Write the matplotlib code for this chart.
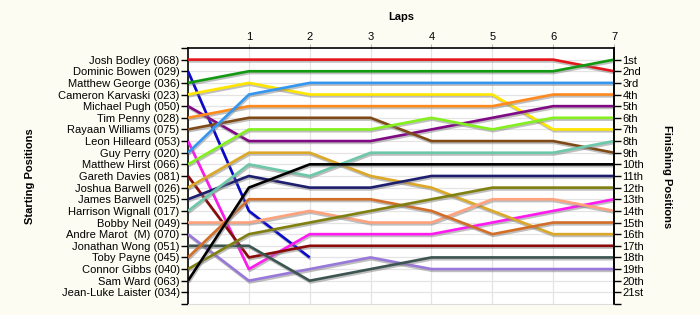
import numpy as np
import matplotlib
matplotlib.use('Agg')
import matplotlib.pyplot as plt
import matplotlib.patheffects as pe

plt.rcParams['font.family'] = ['Liberation Sans', 'DejaVu Sans']

drivers = ['Josh Bodley (068)', 'Dominic Bowen (029)', 'Matthew George (036)',
           'Cameron Karvaski (023)', 'Michael Pugh (050)', 'Tim Penny (028)',
           'Rayaan Williams (075)', 'Leon Hilleard (053)', 'Guy Perry (020)',
           'Matthew Hirst (066)', 'Gareth Davies (081)', 'Joshua Barwell (026)',
           'James Barwell (025)', 'Harrison Wignall (017)', 'Bobby Neil (049)',
           'Andre Marot  (M) (070)', 'Jonathan Wong (051)', 'Toby Payne (045)',
           'Connor Gibbs (040)', 'Sam Ward (063)', 'Jean-Luke Laister (034)']

laps = [0, 1, 2, 3, 4, 5, 6, 7]

# position after each lap (lap 0 = grid), None = not running
positions = [
    [1, 1, 1, 1, 1, 1, 1, 2],
    [2, 14, 18, None, None, None, None, None],
    [3, 2, 2, 2, 2, 2, 2, 1],
    [4, 3, 4, 4, 4, 4, 7, 7],
    [5, 8, 8, 8, 7, 6, 5, 5],
    [6, 5, 5, 5, 5, 5, 4, 4],
    [7, 6, 6, 6, 8, 8, 8, 9],
    [8, 19, 16, 16, 16, 15, 14, 13],
    [9, 4, 3, 3, 3, 3, 3, 3],
    [10, 7, 7, 7, 6, 7, 6, 6],
    [11, 18, 17, 17, 17, 17, 17, 17],
    [12, 9, 9, 11, 12, 14, 16, 16],
    [13, 11, 12, 12, 11, 11, 11, 11],
    [14, 10, 11, 9, 9, 9, 9, 8],
    [15, 15, 14, 15, 15, 13, 13, 14],
    [16, 20, 19, 18, 19, 19, 19, 19],
    [17, 17, 20, 19, 18, 18, 18, 18],
    [18, 13, 13, 13, 14, 16, 15, 15],
    [19, 16, 15, 14, 13, 12, 12, 12],
    [20, 12, 10, 10, 10, 10, 10, 10],
    [None] * 8,
]

colors = ['#E3171B', '#0A0ACD', '#129A12', '#FFE600', '#7F0A84', '#FF8A1E',
          '#7F4A16', '#FF1AF0', '#3396F0', '#84F01E', '#8B0A0A', '#DCA827',
          '#1E1E6E', '#6CC8A8', '#FFA27E', '#9878D8', '#3C5550', '#D26E28',
          '#808010', '#000000', '#888888']

finish_labels = ['1st', '2nd', '3rd'] + [f'{i}th' for i in range(4, 21)] + ['21st']

fig = plt.figure(figsize=(7, 3.15), dpi=100, facecolor='#FCFCF2')
ax = fig.add_axes([0.2686, 0.035, 0.6086, 0.8127])
ax.set_facecolor('white')

for name, pos, col in zip(drivers, positions, colors):
    y = np.array([np.nan if p is None else p for p in pos], dtype=float)
    if np.all(np.isnan(y)):
        continue
    ax.plot(laps, y, color=col, lw=1.9, solid_capstyle='butt', zorder=3,
            path_effects=[pe.SimpleLineShadow(offset=(0.6, -1.3), shadow_color='#808080', alpha=0.5),
                          pe.Normal()])

n = len(drivers)
ax.set_xlim(0, 7)
ax.set_ylim(n + 1, 0)

ax.set_yticks(range(1, n + 1))
ax.set_yticklabels(drivers, fontsize=8)
ax.set_yticks([0, n + 1], minor=True)
ax.tick_params(axis='y', which='both', direction='out', length=5, width=1, pad=1)

ax.xaxis.tick_top()
ax.set_xticks(laps[1:])
ax.set_xticklabels([str(l) for l in laps[1:]], fontsize=8)
ax.tick_params(axis='x', direction='out', length=3, color='#BBBBBB', pad=1)

ax.grid(True, color='#E4E4E4', lw=0.9, zorder=0)
ax.set_axisbelow(True)

for s in ['left', 'right', 'top']:
    ax.spines[s].set_color('black')
    ax.spines[s].set_linewidth(1.2)
ax.spines['bottom'].set_color('#DDDDDD')

ax2 = ax.twinx()
ax2.set_ylim(n + 1, 0)
ax2.set_yticks(range(1, n + 1))
ax2.set_yticklabels(finish_labels, fontsize=8)
ax2.set_yticks([n + 1], minor=True)
ax2.tick_params(axis='y', which='both', direction='out', length=5, width=1, pad=1)
for s in ['left', 'right', 'top', 'bottom']:
    ax2.spines[s].set_visible(False)
ax2.spines['right'].set_visible(True)
ax2.spines['right'].set_linewidth(1.2)

fig.text(0.573, 0.945, 'Laps', fontsize=8, fontweight='bold', ha='center', va='center')
fig.text(0.043, 0.44, 'Starting Positions', fontsize=8, fontweight='bold',
         rotation=90, ha='center', va='center')
fig.text(0.953, 0.438, 'Finishing Positions', fontsize=8, fontweight='bold',
         rotation=-90, ha='center', va='center')

fig.savefig('out.png', dpi=100, facecolor=fig.get_facecolor())
